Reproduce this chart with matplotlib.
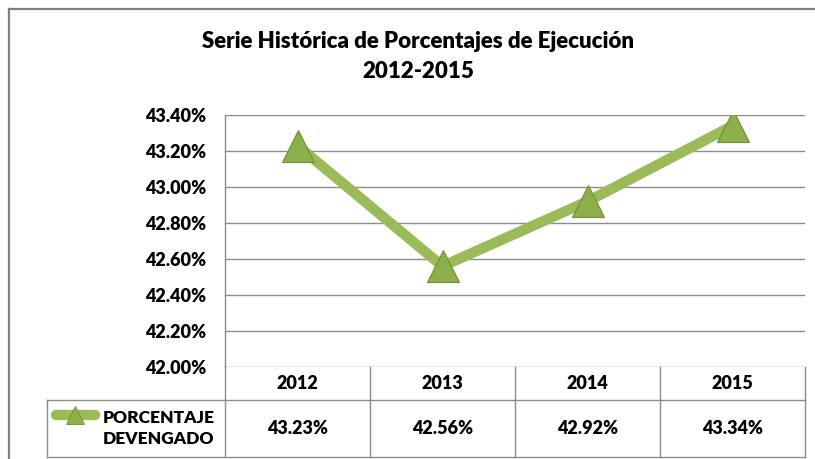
import numpy as np
import matplotlib
matplotlib.use('Agg')
import matplotlib.pyplot as plt
from matplotlib.lines import Line2D
from matplotlib.transforms import blended_transform_factory

plt.rcParams['font.family'] = ['Lato', 'DejaVu Sans']

# Data
years = ['2012', '2013', '2014', '2015']
porcentaje = [43.23, 42.56, 42.92, 43.34]
serie = 'PORCENTAJE\nDEVENGADO'
yticks = [42.00, 42.20, 42.40, 42.60, 42.80, 43.00, 43.20, 43.40]

green = '#9bbb59'
grid = '#8c8c8c'
fw = 'heavy'

W, H = 815, 459
fig = plt.figure(figsize=(W / 100, H / 100), dpi=100)
ax = fig.add_axes([225 / W, 1 - 367 / H, 580 / W, 252 / H])

x = np.arange(len(years))
ax.plot(x, porcentaje, color=green, lw=7.5, solid_capstyle='butt', zorder=3)
ax.plot(x, porcentaje, ls='none', marker='^', ms=23, mfc='#8cb04a',
        mec='#6e8f36', mew=0.8, zorder=4)

ax.set_xlim(-0.5, len(years) - 0.5)
ax.set_ylim(yticks[0], yticks[-1])
ax.set_yticks(yticks)
ax.set_yticklabels(['%.2f%%' % v for v in yticks], fontsize=13, fontweight=fw)
ax.tick_params(axis='y', length=0, pad=13.5)
ax.set_xticks([])
ax.yaxis.grid(True, color=grid, lw=1)
ax.set_axisbelow(True)
for s in ['top', 'right', 'bottom']:
    ax.spines[s].set_visible(False)
ax.spines['left'].set_color(grid)
ax.spines['left'].set_linewidth(1)

# data table under the plot
tr = blended_transform_factory(ax.transData, ax.transAxes)
h1 = -33 / 252
h2 = -90 / 252
xl = -0.5 - 178 / 145
kw = dict(transform=tr, color=grid, lw=1, clip_on=False)
for xv in np.arange(-0.5, len(years), 1.0):
    ax.add_line(Line2D([xv, xv], [0, h2], **kw))
ax.add_line(Line2D([xl, xl], [h1, h2], **kw))
ax.add_line(Line2D([xl, len(years) - 0.5], [h1, h1], **kw))
ax.add_line(Line2D([xl, len(years) - 0.5], [h2, h2], **kw))

for i, yr in enumerate(years):
    ax.text(i, h1 / 2, yr, transform=tr, ha='center', va='center',
            fontsize=13, fontweight=fw)
    ax.text(i, (h1 + h2) / 2, '%.2f%%' % porcentaje[i], transform=tr,
            ha='center', va='center', fontsize=13, fontweight=fw)

# legend key
ky = -48 / 252
kx0 = -0.5 - 169 / 145
kx1 = -0.5 - 130 / 145
ax.add_line(Line2D([kx0, kx1], [ky, ky], transform=tr, color=green, lw=7.5,
                   solid_capstyle='round', clip_on=False))
ax.add_line(Line2D([(kx0 + kx1) / 2], [ky], transform=tr, marker='^', ms=13,
                   mfc='#8cb04a', mec='#6e8f36', mew=0.6, ls='none', clip_on=False))
ax.text(-0.5 - 122 / 145, (h1 + h2) / 2, serie, transform=tr, ha='left',
        va='center', fontsize=12.5, fontweight=fw, linespacing=1.4)

# title
fig.text(418 / W, 1 - 42 / H, 'Serie Histórica de Porcentajes de Ejecución',
         ha='center', va='center', fontsize=16, fontweight=fw)
fig.text(418 / W, 1 - 72 / H, '2012-2015', ha='center', va='center',
         fontsize=16, fontweight=fw)

# chart border (top and left)
fig.add_artist(Line2D([9 / W, 9 / W], [0, 1 - 9 / H], transform=fig.transFigure,
                      color='#808080', lw=1.6))
fig.add_artist(Line2D([9 / W, 1], [1 - 9 / H, 1 - 9 / H], transform=fig.transFigure,
                      color='#808080', lw=1.6))

fig.savefig('out.png', dpi=100)
